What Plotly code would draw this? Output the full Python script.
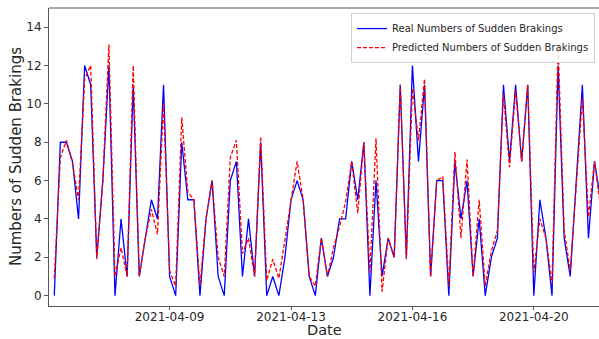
import plotly.graph_objects as go

# Observed and model-predicted counts of sudden brakings, one value per sample
real_counts = [0, 8, 8, 7, 4, 12, 11, 2, 6, 12, 0, 4, 1, 11, 1, 3, 5, 4, 11, 1,
               0, 8, 5, 5, 0, 4, 6, 1, 0, 6, 7, 1, 4, 1, 8, 0, 1, 0, 2, 5,
               6, 5, 1, 0, 3, 1, 2, 4, 4, 7, 5, 8, 0, 6, 1, 3, 2, 11, 2, 12,
               7, 11, 1, 6, 6, 0, 7, 4, 6, 1, 4, 0, 2, 3, 11, 7, 11, 7, 11, 0,
               5, 3, 0, 12, 3, 1, 6, 11, 3, 7, 5]
predicted_counts = [0.9, 7.2, 8.1, 6.9, 5.0, 11.3, 12.0, 1.9, 6.0, 13.1, 1.0, 2.5, 1.0, 12.0, 1.0, 3.0, 4.5, 3.2, 10.0, 1.3,
                    0.5, 9.3, 5.4, 5.0, 0.5, 4.0, 6.0, 2.0, 1.0, 7.2, 8.1, 2.2, 3.0, 1.0, 8.3, 0.8, 1.9, 0.9, 2.9, 5.0,
                    7.0, 5.0, 1.0, 0.5, 3.0, 1.0, 2.5, 3.6, 4.9, 7.0, 4.3, 8.0, 1.2, 8.2, 0.2, 3.0, 2.0, 11.0, 1.9, 10.8,
                    8.1, 11.3, 1.0, 6.0, 6.2, 0.5, 7.5, 3.0, 7.1, 1.0, 5.0, 0.5, 2.3, 3.4, 10.5, 6.7, 10.7, 7.0, 11.0, 1.2,
                    4.0, 3.0, 0.6, 13.1, 3.4, 1.3, 6.0, 10.3, 4.1, 7.0, 4.6]
sample_index = list(range(len(real_counts)))

# Date labels shown on the x axis and the sample positions they mark
date_tick_positions = [19, 39, 59, 79]
date_tick_labels = ["2021-04-09", "2021-04-13", "2021-04-16", "2021-04-20"]
count_ticks = [0, 2, 4, 6, 8, 10, 12, 14]

FONT = "DejaVu Sans"
AXIS_COLOR = "#555555"
TEXT_COLOR = "#262626"

fig = go.Figure()
fig.add_trace(go.Scatter(
    x=sample_index, y=real_counts, mode="lines",
    name="Real Numbers of Sudden Brakings",
    line=dict(color="#0000ff", width=1.3),
))
fig.add_trace(go.Scatter(
    x=sample_index, y=predicted_counts, mode="lines",
    name="Predicted Numbers of Sudden Brakings",
    line=dict(color="#ff0000", width=1.3, dash="4px,2px"),
))

fig.update_layout(
    width=599, height=339,
    margin=dict(l=49, r=0, t=8, b=33),
    paper_bgcolor="white", plot_bgcolor="white",
    font=dict(family=FONT, size=12, color=TEXT_COLOR),
    legend=dict(
        x=0.9927, y=0.983, xanchor="right", yanchor="top",
        bgcolor="rgba(255,255,255,0.9)", bordercolor="#d0d0d0", borderwidth=1,
        font=dict(family=FONT, size=10, color=TEXT_COLOR),
        tracegroupgap=0, itemwidth=30,
    ),
    showlegend=True,
)

fig.update_xaxes(
    range=[-0.87, 89.74], automargin=False,
    tickmode="array", tickvals=date_tick_positions, ticktext=date_tick_labels,
    ticks="outside", ticklen=3, tickcolor=AXIS_COLOR, ticklabelstandoff=-3,
    showline=True, linecolor=AXIS_COLOR, linewidth=1, mirror=False,
    showgrid=False, zeroline=False,
    tickfont=dict(family=FONT, size=12, color=TEXT_COLOR),
)
fig.update_yaxes(
    range=[-0.54, 15.0], automargin=False,
    tickmode="array", tickvals=count_ticks,
    ticks="outside", ticklen=4, tickcolor=AXIS_COLOR,
    showline=True, linecolor=AXIS_COLOR, linewidth=1, mirror=False,
    showgrid=False, zeroline=False,
    tickfont=dict(family=FONT, size=12, color=TEXT_COLOR),
)

# Axis titles placed explicitly below / left of the axes
fig.add_annotation(text="Date", xref="paper", yref="paper", x=0.5, y=-0.082,
                   xanchor="center", yanchor="middle", showarrow=False,
                   font=dict(family=FONT, size=14.5, color=TEXT_COLOR))
fig.add_annotation(text="Numbers of Sudden Brakings", xref="paper", yref="paper",
                   x=-0.06, y=0.5, xanchor="center", yanchor="middle", textangle=-90,
                   showarrow=False,
                   font=dict(family=FONT, size=15, color=TEXT_COLOR))

# Top frame line of the axes box
fig.add_shape(type="line", xref="paper", yref="paper", x0=0, x1=1, y0=1, y1=1,
              line=dict(color=AXIS_COLOR, width=1))

fig.write_html("out.html")
